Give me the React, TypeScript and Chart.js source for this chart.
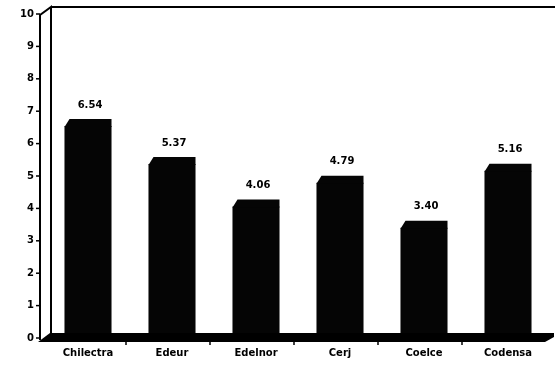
import React, { useEffect, useRef } from "react";
import { Chart, registerables } from "chart.js";

Chart.register(...registerables);

const categories = ["Chilectra", "Edeur", "Edelnor", "Cerj", "Coelce", "Codensa"];
const values = [6.54, 5.37, 4.06, 4.79, 3.4, 5.16];
const yTickValues = [0, 1, 2, 3, 4, 5, 6, 7, 8, 9, 10];

const FONT = "'DejaVu Sans', sans-serif";

const decorPlugin = {
  id: "decor",
  afterDatasetsDraw(chart: any) {
    const ctx = chart.ctx as CanvasRenderingContext2D;
    const y = chart.scales.y;
    const meta = chart.getDatasetMeta(0);
    ctx.save();
    // 3D caps on bars and value labels
    meta.data.forEach((bar: any, i: number) => {
      const props = bar.getProps(["x", "y", "width", "base"], true);
      const l = props.x - props.width / 2;
      const r = props.x + props.width / 2;
      const t = props.y;
      ctx.fillStyle = "#050505";
      ctx.beginPath();
      ctx.moveTo(l, t + 1);
      ctx.lineTo(l + 5, t - 7);
      ctx.lineTo(r, t - 7);
      ctx.lineTo(r, t + 1);
      ctx.closePath();
      ctx.fill();
      ctx.font = "bold 10px " + FONT;
      ctx.textAlign = "center";
      ctx.textBaseline = "middle";
      ctx.fillStyle = "#000";
      ctx.fillText(values[i].toFixed(2), props.x + 2, t - 21);
    });
    const y0 = y.getPixelForValue(0);
    const yTop = y.getPixelForValue(10);
    // wall
    ctx.strokeStyle = "#000";
    ctx.lineWidth = 2;
    ctx.beginPath();
    ctx.moveTo(40, y0 + 2);
    ctx.lineTo(40, yTop + 1);
    ctx.lineTo(51, yTop - 7);
    ctx.lineTo(51, y0 - 5);
    ctx.stroke();
    // top border
    ctx.beginPath();
    ctx.moveTo(51, yTop - 7);
    ctx.lineTo(chart.width, yTop - 7);
    ctx.stroke();
    // tick marks
    ctx.lineWidth = 1.5;
    yTickValues.forEach((v) => {
      const py = y.getPixelForValue(v);
      ctx.beginPath();
      ctx.moveTo(36, py);
      ctx.lineTo(40, py);
      ctx.stroke();
    });
    // floor
    ctx.fillStyle = "#000";
    ctx.beginPath();
    ctx.moveTo(38, y0 + 4);
    ctx.lineTo(50, y0 - 5);
    ctx.lineTo(chart.width - 1, y0 - 5);
    ctx.lineTo(chart.width - 1, y0 - 1);
    ctx.lineTo(chart.width - 10, y0 + 4);
    ctx.closePath();
    ctx.fill();
    // category boundary ticks
    const x = chart.scales.x;
    ctx.lineWidth = 1.5;
    for (let i = 1; i < categories.length; i++) {
      const px = (x.getPixelForValue(i - 1) + x.getPixelForValue(i)) / 2 - 4;
      ctx.beginPath();
      ctx.moveTo(px, y0 + 4);
      ctx.lineTo(px, y0 + 7);
      ctx.stroke();
    }
    ctx.restore();
  },
};

export default function App() {
  const ref = useRef<HTMLCanvasElement | null>(null);
  useEffect(() => {
    if (!ref.current) return;
    const chart = new Chart(ref.current, {
      type: "bar",
      data: {
        labels: categories,
        datasets: [
          {
            data: values,
            backgroundColor: "#050505",
            borderWidth: 0,
            barPercentage: 0.56,
            categoryPercentage: 1,
          },
        ],
      },
      options: {
        responsive: false,
        animation: false,
        devicePixelRatio: 1,
        layout: { padding: { top: 9, right: 5, left: 0, bottom: 0 } },
        plugins: { legend: { display: false }, tooltip: { enabled: false } },
        scales: {
          x: {
            grid: { display: false, drawTicks: false },
            border: { display: false },
            ticks: {
              color: "#000",
              font: { family: FONT, size: 10, weight: "bold" },
              padding: 9,
              maxRotation: 0,
              autoSkip: false,
            },
            afterFit(scale: any) {
              scale.height = 30;
            },
          },
          y: {
            min: 0,
            max: 10,
            grid: { display: false, drawTicks: false },
            border: { display: false },
            ticks: {
              stepSize: 1,
              color: "#000",
              font: { family: FONT, size: 10, weight: "bold" },
              padding: 12,
            },
            afterFit(scale: any) {
              scale.width = 46;
            },
          },
        },
      },
      plugins: [decorPlugin],
    });
    return () => chart.destroy();
  }, []);
  return (
    <div style={{ position: "fixed", left: 0, top: 0, width: 555, height: 368, overflow: "hidden", background: "#fff" }}>
      <canvas ref={ref} width={555} height={372} style={{ position: "absolute", left: 0, top: -4 }} />
    </div>
  );
}
